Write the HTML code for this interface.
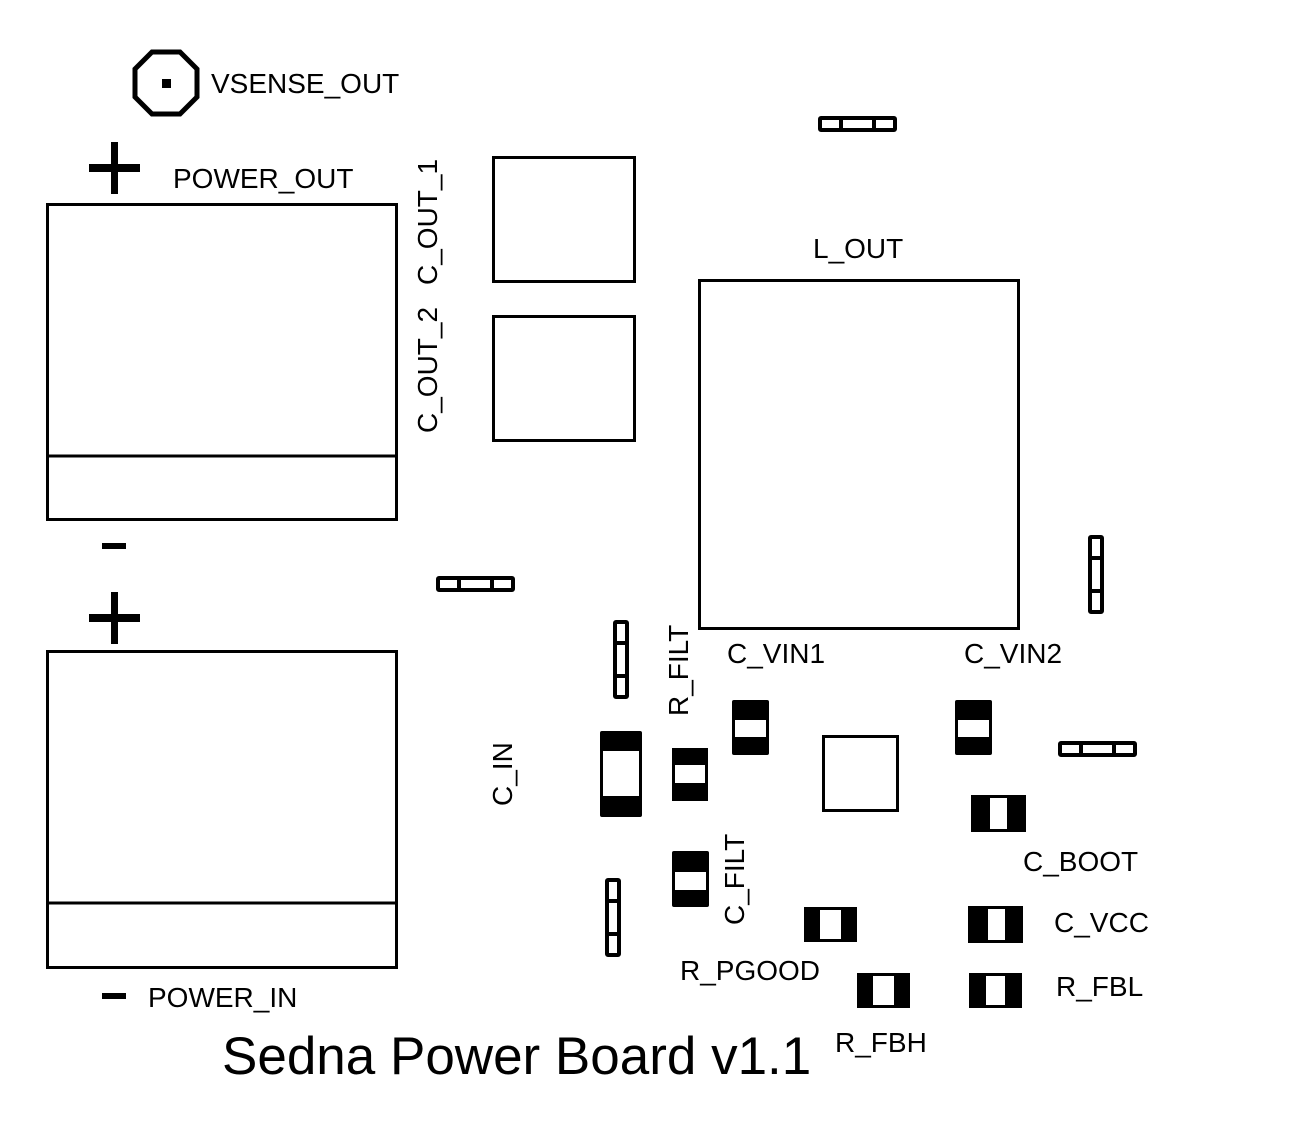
<!DOCTYPE html>
<html><head><style>html,body{margin:0;padding:0;background:#fff}svg{display:block}text{font-family:"Liberation Sans",sans-serif;fill:#000}</style></head>
<body>
<svg width="1300" height="1125" viewBox="0 0 1300 1125" xmlns="http://www.w3.org/2000/svg">
<g fill="none" stroke="#000" stroke-width="3">
<polygon points="152,52 180,52 197,69 197,97 180,114 152,114 135,97 135,69" stroke-width="5"/>
<rect x="47.5" y="204.5" width="349" height="315"/><line x1="47" y1="456" x2="397" y2="456"/>
<rect x="47.5" y="651.5" width="349" height="316"/><line x1="47" y1="903" x2="397" y2="903"/>
<rect x="493.5" y="157.5" width="141" height="124"/>
<rect x="493.5" y="316.5" width="141" height="124"/>
<rect x="699.5" y="280.5" width="319" height="348"/>
<rect x="823.5" y="736.5" width="74" height="74"/>
</g>
<rect x="162" y="79" width="9" height="9"/>
<rect x="89" y="164" width="51" height="8"/><rect x="111" y="142" width="7" height="52"/>
<rect x="89" y="614" width="51" height="8"/><rect x="111" y="592" width="7" height="52"/>
<rect x="102" y="543" width="24" height="6"/>
<rect x="102" y="993" width="24" height="6"/>
<g fill="none" stroke="#000" stroke-width="4">
<rect x="820" y="118" width="75" height="12" rx="1"/><line x1="841" y1="118" x2="841" y2="130"/><line x1="874" y1="118" x2="874" y2="130"/>
<rect x="438" y="578" width="75" height="12" rx="1"/><line x1="459" y1="578" x2="459" y2="590"/><line x1="492" y1="578" x2="492" y2="590"/>
<rect x="1060" y="743" width="75" height="12" rx="1"/><line x1="1081" y1="743" x2="1081" y2="755"/><line x1="1114" y1="743" x2="1114" y2="755"/>
<rect x="1090" y="537" width="12" height="75" rx="1"/><line x1="1090" y1="558" x2="1102" y2="558"/><line x1="1090" y1="591" x2="1102" y2="591"/>
<rect x="615" y="622" width="12" height="75" rx="1"/><line x1="615" y1="643" x2="627" y2="643"/><line x1="615" y1="676" x2="627" y2="676"/>
<rect x="607" y="880" width="12" height="75" rx="1"/><line x1="607" y1="901" x2="619" y2="901"/><line x1="607" y1="934" x2="619" y2="934"/>
</g>
<g>
<rect x="600" y="731" width="42" height="86" rx="2"/><rect x="603" y="751" width="36" height="45" fill="#fff"/>
<rect x="672" y="748" width="36" height="53"/><rect x="675" y="765" width="30" height="18" fill="#fff"/>
<rect x="732" y="700" width="37" height="55" rx="2"/><rect x="735" y="720" width="31" height="17" fill="#fff"/>
<rect x="672" y="851" width="37" height="56" rx="2"/><rect x="675" y="872" width="31" height="18" fill="#fff"/>
<rect x="955" y="700" width="37" height="55" rx="2"/><rect x="958" y="720" width="31" height="17" fill="#fff"/>
</g>
<g>
<rect x="971" y="795" width="55" height="37"/><rect x="990" y="798" width="17" height="31" fill="#fff"/>
<rect x="968" y="906" width="55" height="37"/><rect x="988" y="909" width="17" height="31" fill="#fff"/>
<rect x="969" y="973" width="53" height="35"/><rect x="986" y="976" width="19" height="29" fill="#fff"/>
<rect x="804" y="907" width="53" height="35"/><rect x="820" y="910" width="21" height="29" fill="#fff"/>
<rect x="857" y="973" width="53" height="35"/><rect x="873" y="976" width="21" height="29" fill="#fff"/>
</g>
<g font-size="28">
<text x="211" y="93">VSENSE_OUT</text>
<text x="173" y="188">POWER_OUT</text>
<text x="813" y="258">L_OUT</text>
<text x="727" y="663">C_VIN1</text>
<text x="964" y="663">C_VIN2</text>
<text x="1023" y="871">C_BOOT</text>
<text x="1054" y="932">C_VCC</text>
<text x="1056" y="996">R_FBL</text>
<text x="680" y="980">R_PGOOD</text>
<text x="835" y="1052">R_FBH</text>
<text x="148" y="1007">POWER_IN</text>
<text transform="translate(437,285) rotate(-90)">C_OUT_1</text>
<text transform="translate(437,433) rotate(-90)">C_OUT_2</text>
<text transform="translate(688,716) rotate(-90)">R_FILT</text>
<text transform="translate(512,806) rotate(-90)">C_IN</text>
<text transform="translate(744,925) rotate(-90)">C_FILT</text>
</g>
<text x="222" y="1074" font-size="53">Sedna Power Board v1.1</text>
</svg>
</body></html>
